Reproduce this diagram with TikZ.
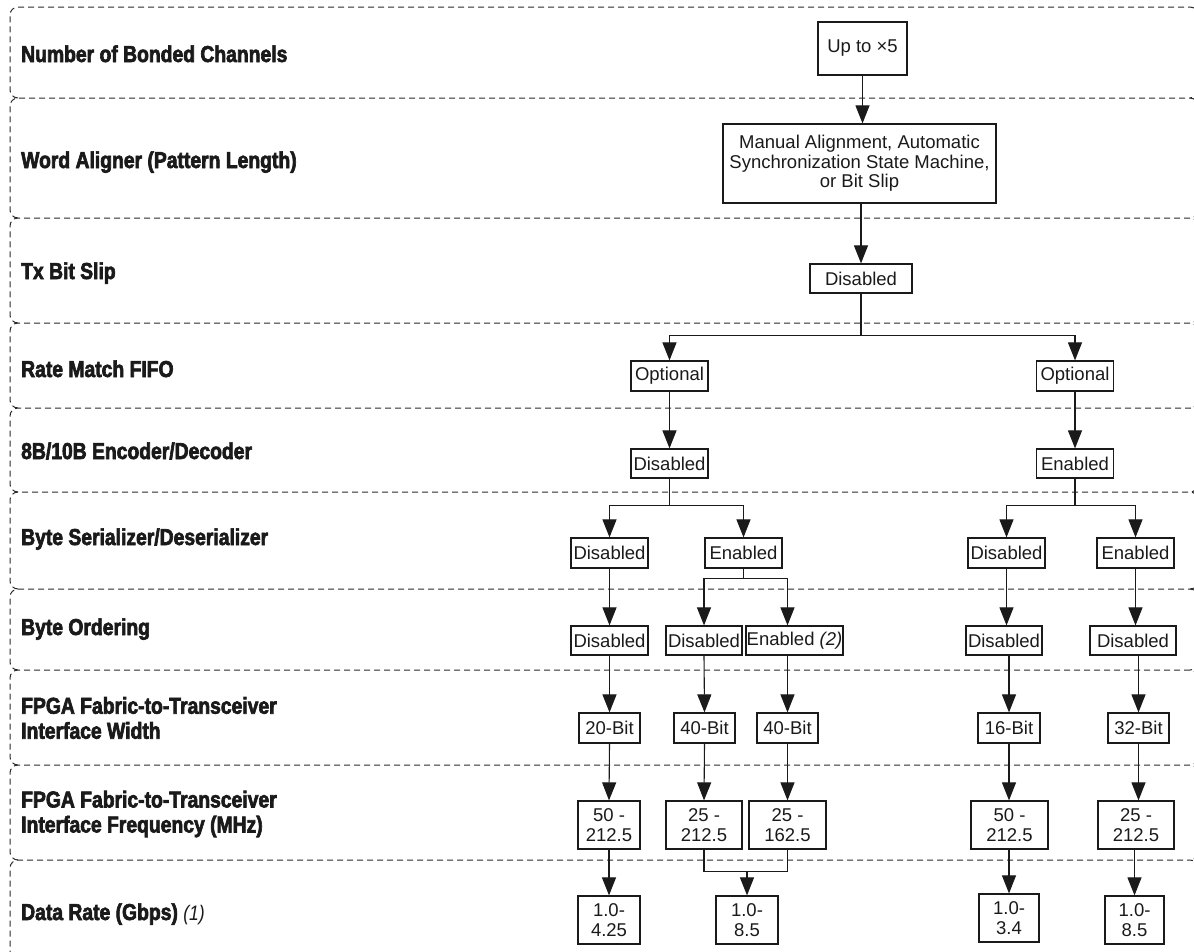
\documentclass[tikz,border=0pt]{standalone}
\usepackage{fontspec}
\setmainfont{Liberation Sans}
\newfontfamily\lblfont{Liberation Sans}[FakeStretch=0.84,BoldFeatures={FakeBold=2.8}]
\usetikzlibrary{arrows.meta}
\definecolor{ink}{HTML}{1A1A1A}
\definecolor{dash}{HTML}{2A2A2A}
\tikzset{
  band/.style={draw=dash,line width=1pt,dash pattern=on 6pt off 4pt},
  box/.style={draw=ink,line width=1.2pt,inner sep=0pt,align=center,text=ink,
    font=\fontsize{18.5}{19.5}\selectfont},
  lbl/.style={anchor=base west,inner sep=0pt,text=ink,align=left,
    font=\lblfont\bfseries\fontsize{23}{25}\selectfont},
  lbl2/.style={anchor=west,inner sep=0pt,text=ink,align=left,
    font=\lblfont\bfseries\fontsize{23}{25}\selectfont},
  ln/.style={draw=ink,line width=1.1pt},
  arr/.style={ln,-{Triangle[length=18pt,width=14pt]}},
}
\begin{document}
\begin{tikzpicture}[x=1pt,y=-1pt]
\useasboundingbox (0,0) rectangle (1194,951);

% dashed row bands with rounded ends
\foreach \t/\b in {7/98,98/218,218/323,323/408,408/492,492/589,589/670,670/765,765/860,860/962}{
  \draw[band] (18,\b) to[out=180,in=-90] (10,\b-8) -- (10,\t+8)
    to[out=90,in=180] (18,\t) -- (1190,\t) to[out=0,in=90] (1198,\t+8)
    -- (1198,\b-8) to[out=-90,in=0] (1190,\b);
}

% row captions
\node[lbl] (l1) at (21,62) {Number of Bonded Channels};
\node[lbl] (l2) at (21,168) {Word Aligner (Pattern Length)};
\node[lbl] (l3) at (21,279) {Tx Bit Slip};
\node[lbl] (l4) at (21,377) {Rate Match FIFO};
\node[lbl] (l5) at (21,459) {8B/10B Encoder/Decoder};
\node[lbl] (l6) at (21,545) {Byte Serializer/Deserializer};
\node[lbl] (l7) at (21,635) {Byte Ordering};
\node[lbl2] (l8) at (21,718) {FPGA Fabric-to-Transceiver\\Interface Width};
\node[lbl2] (l9) at (21,814) {FPGA Fabric-to-Transceiver\\Interface Frequency (MHz)};
\node[lbl] (l10) at (21,920) {Data Rate (Gbps) {\mdseries\itshape\fontsize{21}{24}\selectfont (1)}};

% option boxes
\node[box,minimum width=89pt,minimum height=53pt] (up) at (862.5,48.5) {Up to ×5};
\node[box,minimum width=273pt,minimum height=79pt] (wa) at (859.5,163.5)
  {Manual Alignment, Automatic\\Synchronization State Machine,\\or Bit Slip};
\node[box,minimum width=102pt,minimum height=29pt] (txd) at (861,278.5) {Disabled};

\node[box,minimum width=77pt,minimum height=30pt] (optL) at (669.5,376) {Optional};
\node[box,minimum width=77pt,minimum height=30pt] (optR) at (1075,376) {Optional};

\node[box,minimum width=77pt,minimum height=29pt] (encL) at (669.5,463.5) {Disabled};
\node[box,minimum width=77pt,minimum height=29pt] (encR) at (1075,463.5) {Enabled};

\node[box,minimum width=77pt,minimum height=30pt] (bsA) at (609.5,553) {Disabled};
\node[box,minimum width=77pt,minimum height=30pt] (bsB) at (743.5,553) {Enabled};
\node[box,minimum width=77pt,minimum height=30pt] (bsC) at (1006.5,553) {Disabled};
\node[box,minimum width=77pt,minimum height=30pt] (bsD) at (1135.5,553) {Enabled};

\node[box,minimum width=77pt,minimum height=29pt] (boA) at (609.5,640.5) {Disabled};
\node[box,minimum width=76pt,minimum height=29pt] (boB1) at (704,640.5) {Disabled};
\node[box,minimum width=97pt,minimum height=29pt] (boB2) at (794.5,640.5) {Enabled \textit{(2)}};
\node[box,minimum width=76pt,minimum height=29pt] (boC) at (1004,640.5) {Disabled};
\node[box,minimum width=86pt,minimum height=29pt] (boD) at (1133,640.5) {Disabled};

\node[box,minimum width=61pt,minimum height=30pt] (wA) at (609.5,728) {20-Bit};
\node[box,minimum width=61pt,minimum height=30pt] (wB1) at (704.5,728) {40-Bit};
\node[box,minimum width=61pt,minimum height=30pt] (wB2) at (787.5,728) {40-Bit};
\node[box,minimum width=62pt,minimum height=30pt] (wC) at (1009,728) {16-Bit};
\node[box,minimum width=61pt,minimum height=30pt] (wD) at (1138.5,728) {32-Bit};

\node[box,minimum width=62pt,minimum height=48pt] (fA) at (609,825) {50 -\\212.5};
\node[box,minimum width=76pt,minimum height=48pt] (fB1) at (704,825) {25 -\\212.5};
\node[box,minimum width=77pt,minimum height=48pt] (fB2) at (787.5,825) {25 -\\162.5};
\node[box,minimum width=77pt,minimum height=48pt] (fC) at (1009.5,825) {50 -\\212.5};
\node[box,minimum width=76pt,minimum height=48pt] (fD) at (1136,825) {25 -\\212.5};

\node[box,minimum width=62pt,minimum height=48pt] (dA) at (609,920) {1.0-\\4.25};
\node[box,minimum width=62pt,minimum height=48pt] (dB) at (747,920) {1.0-\\8.5};
\node[box,minimum width=60pt,minimum height=48pt] (dC) at (1009,918) {1.0-\\3.4};
\node[box,minimum width=59pt,minimum height=48pt] (dD) at (1134.5,920) {1.0-\\8.5};

% connectors
\draw[arr] (up.south) -- (up.south |- wa.north);
\draw[arr] (wa.south -| txd.north) -- (txd.north);
\draw[arr] (txd.south) -- ++(0,42) -| (optL.north);
\draw[arr] (txd.south) -- ++(0,42) -| (optR.north);
\draw[arr] (optL.south) -- (encL.north);
\draw[arr] (optR.south) -- (encR.north);

\draw[arr] (encL.south) -- ++(0,27) -| (bsA.north);
\draw[arr] (encL.south) -- ++(0,27) -| (bsB.north);
\draw[arr] (encR.south) -- ++(0,27) -| (bsC.north);
\draw[arr] (encR.south) -- ++(0,27) -| (bsD.north);

\draw[arr] (bsA.south) -- (boA.north);
\draw[arr] (bsB.south) -- ++(0,10) -| (boB1.north);
\draw[arr] (bsB.south) -- ++(0,10) -| (wB2.north |- boB2.north);
\draw[arr] (bsC.south) -- (bsC.south |- boC.north);
\draw[arr] (bsD.south) -- (bsD.south |- boD.north);

\draw[arr] (boA.south) -- (wA.north);
\draw[arr] (boB1.south) -- (wB1.north);
\draw[arr] (wB2.north |- boB2.south) -- (wB2.north);
\draw[arr] (boC.south -| wC.north) -- (wC.north);
\draw[arr] (boD.south -| wD.north) -- (wD.north);

\draw[arr] (wA.south) -- (fA.north);
\draw[arr] (wB1.south) -- (fB1.north);
\draw[arr] (wB2.south) -- (fB2.north);
\draw[arr] (wC.south) -- (wC.south |- fC.north);
\draw[arr] (wD.south) -- (wD.south |- fD.north);

\draw[arr] (fA.south) -- (fA.south |- dA.north);
\draw[ln] (fB1.south) -- ++(0,22) coordinate (mrg) -| (fB2.south);
\draw[arr] (mrg -| dB.north) -- (dB.north);
\draw[arr] (fC.south -| dC.north) -- (dC.north);
\draw[arr] (fD.south -| dD.north) -- (dD.north);
\end{tikzpicture}
\end{document}
